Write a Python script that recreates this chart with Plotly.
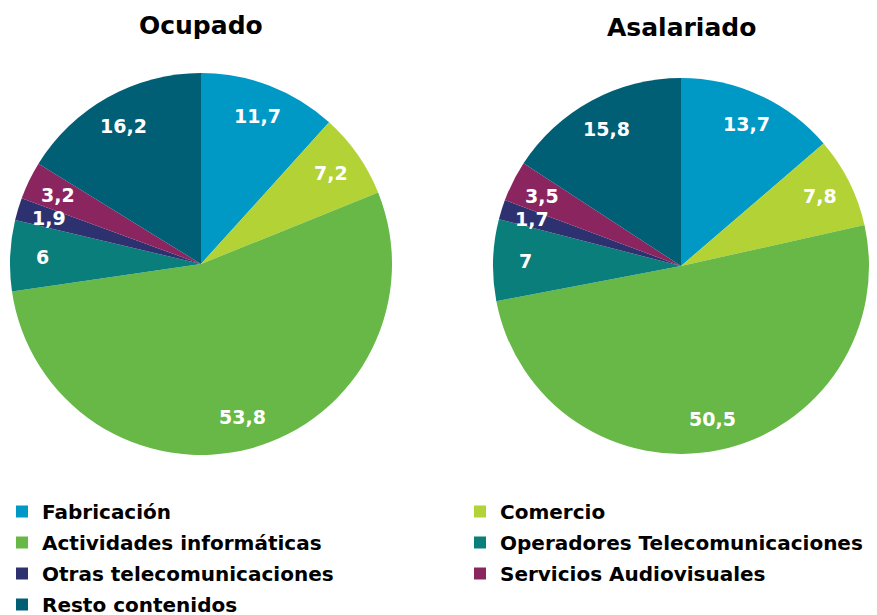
import math
import plotly.graph_objects as go

sectores = ["Fabricación", "Comercio", "Actividades informáticas",
            "Operadores Telecomunicaciones", "Otras telecomunicaciones",
            "Servicios Audiovisuales", "Resto contenidos"]
ocupado = [11.7, 7.2, 53.8, 6, 1.9, 3.2, 16.2]
asalariado = [13.7, 7.8, 50.5, 7, 1.7, 3.5, 15.8]
colores = ["#0099C5", "#B2D235", "#67B846", "#0A7E7A", "#2E3170", "#8A2560", "#005E75"]

W, H = 877, 615


def etiquetas(valores):
    return [f"{v:g}".replace(".", ",") for v in valores]


fig = go.Figure()
anotaciones = []
# (titulo, valores, centro x px, centro y px, radio px, titulo y px)
pies = [
    ("Ocupado", ocupado, 201, 264, 191, 25),
    ("Asalariado", asalariado, 681, 266, 188, 27),
]
for nombre, valores, cx, cy, r, ty in pies:
    fig.add_trace(go.Pie(
        labels=sectores,
        values=valores,
        textinfo="none",
        marker=dict(colors=colores, line=dict(width=0)),
        sort=False,
        direction="clockwise",
        rotation=0,
        domain=dict(x=[(cx - r) / W, (cx + r) / W], y=[1 - (cy + r) / H, 1 - (cy - r) / H]),
        showlegend=False,
        hoverinfo="label+value",
        name=nombre,
    ))
    anotaciones.append(dict(
        text=f"<b>{nombre}</b>", x=cx / W, y=1 - ty / H, xref="paper", yref="paper",
        showarrow=False, font=dict(size=25), xanchor="center", yanchor="middle"))
    # etiquetas de datos dentro de cada sector
    total = sum(valores)
    acum = 0
    for v, t in zip(valores, etiquetas(valores)):
        ang = 2 * math.pi * (acum + v / 2) / total
        acum += v
        rl = 0.83 * r
        anotaciones.append(dict(
            text=f"<b>{t}</b>", x=(cx + rl * math.sin(ang)) / W, y=1 - (cy - rl * math.cos(ang)) / H,
            xref="paper", yref="paper", showarrow=False,
            font=dict(size=19, color="white"), xanchor="center", yanchor="middle"))

# leyenda en dos columnas (entradas sin datos, solo para la leyenda)
for i, (s, c) in enumerate(zip(sectores, colores)):
    fig.add_trace(go.Scatter(
        x=[None], y=[None], mode="markers", name=s,
        marker=dict(symbol="square", size=12, color=c),
        legend="legend" if i % 2 == 0 else "legend2",
        legendgroup=s,
        hoverinfo="skip",
    ))

leyenda_base = dict(
    orientation="v", yanchor="top", xanchor="left",
    font=dict(size=20), itemwidth=30, traceorder="grouped",
    tracegroupgap=2, bgcolor="rgba(0,0,0,0)",
)

fig.update_layout(
    width=W, height=H,
    margin=dict(l=0, r=0, t=0, b=0, autoexpand=False),
    paper_bgcolor="white",
    plot_bgcolor="white",
    font=dict(family="DejaVu Sans", size=16, color="black", weight="bold"),
    annotations=anotaciones,
    xaxis=dict(visible=False),
    yaxis=dict(visible=False),
    legend=dict(leyenda_base, x=2 / W, y=1 - 492 / H),
    legend2=dict(leyenda_base, x=460 / W, y=1 - 492 / H),
)

fig.write_html("out.html", config={"displayModeBar": False},
               post_script="document.body.style.margin='0';")
